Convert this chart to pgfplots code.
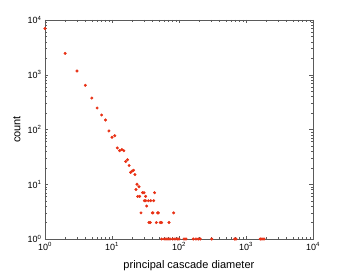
\documentclass[border=0pt]{standalone}
\usepackage{fontspec}
\setmainfont{Liberation Sans}
\usepackage{pgfplots}
\pgfplotsset{compat=1.18}
\definecolor{pt}{RGB}{232,48,20}
\definecolor{ax}{RGB}{90,90,90}
\begin{document}
\begin{tikzpicture}
\begin{axis}[
  at={(0,0)}, anchor=south west,
  scale only axis, width=268pt, height=219pt,
  xmode=log, ymode=log,
  xmin=1, xmax=10000, ymin=1, ymax=10000,
  axis line style={ax, line width=0.5pt},
  tick style={ax, line width=0.4pt},
  tick align=inside,
  major tick length=3.5pt, minor tick length=2pt,
  xtick={1,10,100,1000,10000},
  ytick={1,10,100,1000,10000},
  xticklabels={10\textsuperscript{0},10\textsuperscript{1},10\textsuperscript{2},10\textsuperscript{3},10\textsuperscript{4}},
  yticklabels={10\textsuperscript{0},10\textsuperscript{1},10\textsuperscript{2},10\textsuperscript{3},10\textsuperscript{4}},
  ticklabel style={font=\fontsize{9}{10}\selectfont},
  xlabel={principal cascade diameter},
  ylabel={count},
  label style={font=\fontsize{11}{13}\selectfont},
  xlabel style={at={(axis description cs:0.537,-0.123)}, anchor=center},
  ylabel style={at={(axis description cs:-0.105,0.5)}, anchor=center},
]
\addplot[only marks, mark=*, mark size=1.3pt, color=pt] coordinates {
(1,7000) (2,2460) (3,1170) (4,641) (5,376) (6,247) (7,184) (8,149) (9,94)
(10,72) (11,77) (12,46) (13,41) (14,43) (15,41) (16,26) (17,28) (18,22)
(19,16.5) (20,17.5) (21,18) (22,15) (22.8,8) (23.6,10) (24.2,6) (25.3,9)
(25.9,6) (27.1,3) (28.6,7) (30.1,7) (43.2,7) (31.8,6)
(30.4,5) (31.8,5) (34.9,5) (37.8,5) (41.9,5) (32.9,4)
(40.0,3) (40.9,3) (48.0,3) (49.1,3) (83.3,3)
(35.7,2) (37.3,2) (45.9,2) (52.6,2) (55.1,2) (70.9,2)
(55,1) (60,1) (64,1) (68.5,1) (73.4,1) (80.5,1) (87,1) (94,1) (100,1)
(119,1) (127,1) (163,1) (179,1) (194,1) (208,1) (308,1) (680,1) (710,1)
(1634,1) (1733,1) (1856,1)
};
\end{axis}
\path (-45pt,-36pt) rectangle (301pt,239pt);
\end{tikzpicture}
\end{document}
